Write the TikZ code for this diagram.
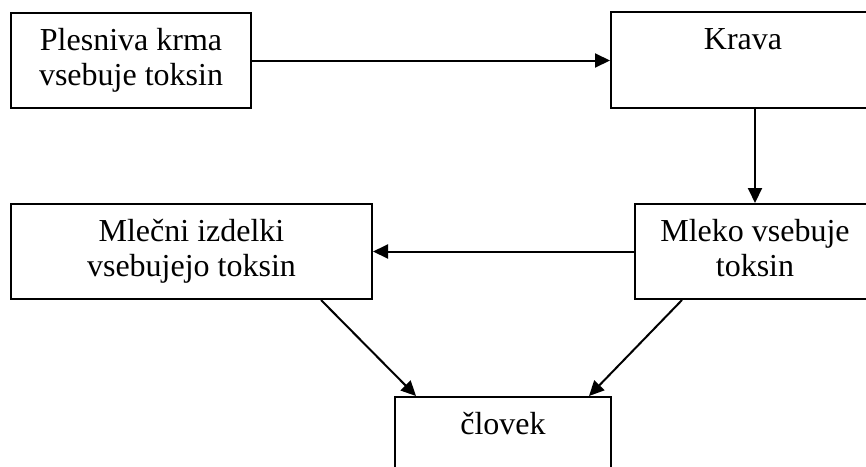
\documentclass[tikz,border=0pt]{standalone}
\usepackage{fontspec}
\setmainfont{Liberation Serif}
\usetikzlibrary{arrows.meta}
\begin{document}
\begin{tikzpicture}[x=1pt,y=-1pt,
  box/.style={draw, line width=2pt, align=center, inner sep=0pt,
    font=\fontsize{32}{35}\selectfont},
  arr/.style={line width=2pt, -{Triangle[length=15pt,width=14pt]}}]
\useasboundingbox (0,0) rectangle (866,466);
\node[box, minimum width=240pt, minimum height=95pt] (krma) at (131,60.5) {\strut Plesniva krma\\vsebuje toksin\strut};
\node[box, minimum width=264pt, minimum height=96pt] (krava) at (743,60) {\strut Krava\\\strut};
\node[box, minimum width=361pt, minimum height=95pt] (izdelki) at (191.5,251.5) {\strut Mlečni izdelki\\vsebujejo toksin\strut};
\node[box, minimum width=240pt, minimum height=95pt] (mleko) at (755,251.5) {\strut Mleko vsebuje\\toksin\strut};
\node[box, minimum width=216pt, minimum height=96pt] (clovek) at (503,445) {\strut človek\\\strut};
\draw[arr] (krma.east) -- (krma.east -| krava.west);
\draw[arr] (mleko.north |- krava.south) -- (mleko.north);
\draw[arr] (mleko.west) -- (mleko.west -| izdelki.east);
\draw[arr] ([xshift=-52pt]izdelki.south east) -- ([xshift=22pt]clovek.north west);
\draw[arr] ([xshift=48pt]mleko.south west) -- ([xshift=-23pt]clovek.north east);
\end{tikzpicture}
\end{document}
